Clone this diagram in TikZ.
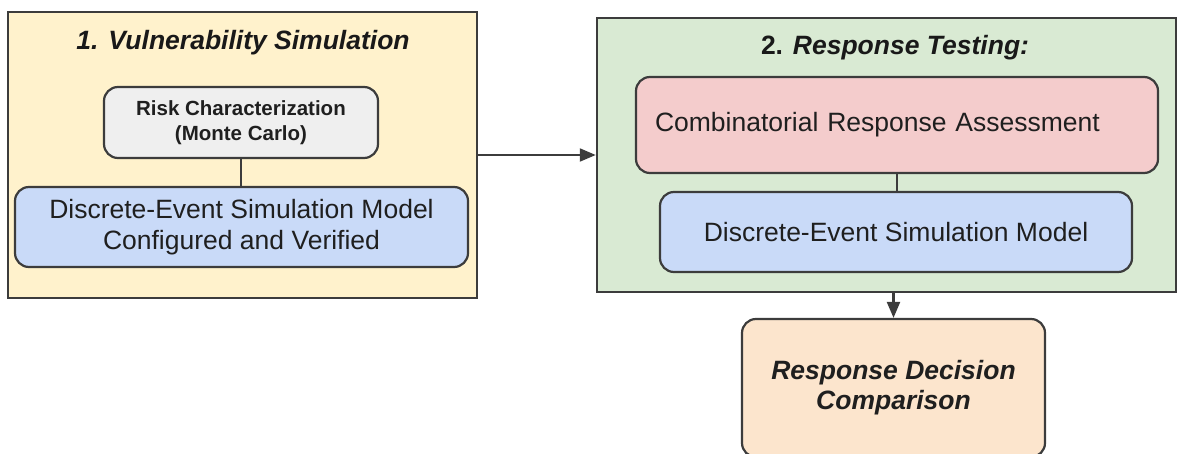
\documentclass[tikz,border=0pt]{standalone}
\usepackage{fontspec}
\setmainfont{Liberation Sans}
\usetikzlibrary{arrows.meta}
\definecolor{edgec}{HTML}{3C3C3C}
\definecolor{yellowf}{HTML}{FFF2CC}
\definecolor{greenf}{HTML}{D9EAD3}
\definecolor{grayf}{HTML}{EFEFEF}
\definecolor{bluef}{HTML}{C9DAF8}
\definecolor{pinkf}{HTML}{F4CCCC}
\definecolor{orangef}{HTML}{FCE5CD}
\tikzset{
  bigtxt/.style={font=\fontsize{26.5}{31}\selectfont},
  outerbox/.style={draw=edgec, line width=2.5pt, inner sep=0pt},
  innerbox/.style={draw=edgec, line width=2.2pt, rounded corners=14pt, inner sep=0pt, align=center, text=black!88},
  link/.style={draw=edgec, line width=2.2pt},
  arrowlink/.style={link, -{Triangle[length=16pt,width=13pt]}},
}
\begin{document}
\begin{tikzpicture}[x=1pt,y=-1pt]
\useasboundingbox (0,0) rectangle (1182,454);
% left group
\node[outerbox, fill=yellowf, minimum width=469pt, minimum height=286pt] (leftbox) at (242.5,155) {};
\node[text=black!90, font=\fontsize{26.5}{31}\selectfont\bfseries\itshape] (title1) at (243,43) {1. Vulnerability Simulation};
\node[innerbox, fill=grayf, minimum width=274pt, minimum height=71pt, font=\fontsize{20.5}{25}\selectfont\bfseries] (risk) at (241,122.5) {Risk Characterization\\(Monte Carlo)};
\node[innerbox, fill=bluef, minimum width=453pt, minimum height=80pt, bigtxt] (desL) at (241.5,227) {Discrete-Event Simulation Model\\Configured and Verified};
% right group
\node[outerbox, fill=greenf, minimum width=579pt, minimum height=274pt] (rightbox) at (886.5,155) {};
\node[text=black!90, font=\fontsize{26.5}{31}\selectfont\bfseries] (title2) at (895,48) {2. \textit{Response Testing:}};
\node[innerbox, fill=pinkf, minimum height=96pt, text width=484pt, inner xsep=19pt, align=left, bigtxt] (comb) at (897,125) {Combinatorial Response Assessment};
\node[innerbox, fill=bluef, minimum width=472pt, minimum height=80pt, bigtxt] (desR) at (896,232) {Discrete-Event Simulation Model};
% bottom
\node[innerbox, fill=orangef, minimum width=303pt, minimum height=138pt, font=\fontsize{26.5}{30}\selectfont\bfseries\itshape] (decision) at (893.5,388) {Response Decision\\Comparison};
% connectors
\draw[link] (risk.south) -- (desL.north -| risk.south);
\draw[arrowlink] (leftbox.east) -- (rightbox.west);
\draw[link] (comb.south) -- (desR.north -| comb.south);
\draw[arrowlink] (decision.north |- rightbox.south) -- (decision.north);
\end{tikzpicture}
\end{document}
